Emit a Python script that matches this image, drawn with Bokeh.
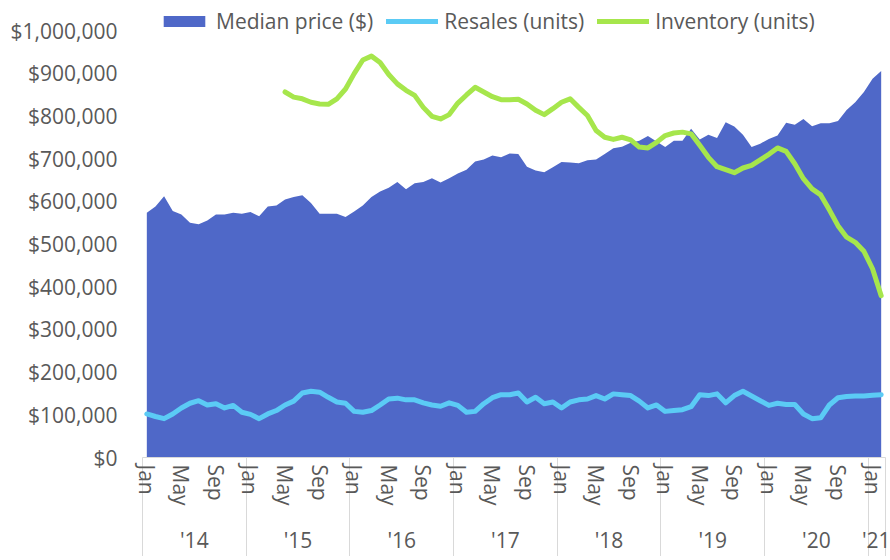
import numpy as np
from bokeh.plotting import figure
from bokeh.models import (ColumnDataSource, Range1d, LinearAxis, FixedTicker,
                          NumeralTickFormatter, Legend, LegendItem)
from bokeh.embed import file_html
from bokeh.resources import INLINE

# ---------------- data (monthly, Jan 2014 - Feb 2021) ----------------
month_names = ["Jan", "Feb", "Mar", "Apr", "May", "Jun",
               "Jul", "Aug", "Sep", "Oct", "Nov", "Dec"]
year_labels = ["'14", "'15", "'16", "'17", "'18", "'19", "'20", "'21"]
y_ticks = [0, 100000, 200000, 300000, 400000, 500000,
           600000, 700000, 800000, 900000, 1000000]

# Median price ($ thousands)
median_price_k = [
    573, 588, 612, 577, 569, 550, 546, 555, 569, 569, 573, 571,   # 2014
    575, 565, 588, 590, 604, 610, 614, 596, 571, 571, 571, 563,   # 2015
    576, 590, 610, 623, 632, 645, 628, 642, 645, 654, 644, 654,   # 2016
    665, 674, 693, 698, 707, 703, 712, 711, 681, 672, 668, 680,   # 2017
    692, 691, 689, 696, 698, 711, 724, 728, 737, 742, 753, 740,   # 2018
    727, 742, 742, 770, 745, 756, 748, 785, 775, 756, 727, 735,   # 2019
    746, 754, 784, 779, 793, 776, 783, 783, 788, 814, 832, 856,   # 2020
    887, 905,                                                     # 2021
]

# Resales (plotted on same scale, thousands)
resales_k = [
    102, 96, 91, 102, 116, 127, 133, 123, 126, 116, 122, 106,
    101, 91, 102, 110, 123, 132, 151, 155, 153, 141, 130, 127,
    108, 106, 110, 123, 137, 139, 135, 135, 128, 123, 120, 128,
    122, 106, 108, 126, 140, 147, 147, 151, 130, 141, 126, 130,
    116, 130, 135, 137, 145, 137, 149, 147, 145, 132, 116, 123,
    108, 110, 112, 119, 147, 145, 149, 128, 145, 155, 144, 133,
    122, 127, 124, 124, 102, 91, 93, 123, 140, 143, 144, 144,
    146, 147,
]

# Inventory (plotted on same scale, thousands), starts May 2015
inventory_k = [
    None, None, None, None, None, None, None, None, None, None, None, None,
    None, None, None, None, 856, 844, 840, 832, 828, 827, 840, 863,
    899, 931, 940, 925, 897, 875, 860, 848, 820, 799, 793, 803,
    830, 849, 867, 856, 845, 838, 838, 839, 828, 813, 803, 817,
    832, 840, 820, 801, 766, 750, 745, 750, 744, 727, 725, 738,
    754, 760, 762, 758, 731, 703, 681, 674, 667, 678, 684, 697,
    710, 725, 717, 688, 653, 629, 615, 580, 543, 516, 504, 483,
    442, 379,
]

n = len(median_price_k)
xs = list(range(n))
src = ColumnDataSource(dict(
    x=xs,
    zero=[0] * n,
    price=[v * 1000 for v in median_price_k],
    resales=[v * 1000 for v in resales_k],
    inventory=[np.nan if v is None else v * 1000 for v in inventory_k],
))

# ticks
month_ticks = [i for i in xs if i % 4 == 0]
month_overrides = {i: month_names[i % 12] for i in month_ticks}
n_years = (n + 11) // 12
boundaries = [12 * k - 0.5 for k in range(n_years)] + [n - 0.5]
year_mids = []
year_overrides = {}
for k in range(n_years):
    s = 12 * k
    e = min(12 * k + 11, n - 1)
    m = (s + e) / 2
    year_mids.append(m)
    year_overrides[m] = year_labels[k]

FONT = "Open Sans"
FSIZE = "21px"
TXT = "#595959"
GRAYLINE = "#d9d9d9"

# frame extends 22px above the $1,000,000 level to host the legend
PLOT_H = 427
EXTRA = 22
y_top = 1000000 * (PLOT_H + EXTRA) / PLOT_H

p = figure(frame_width=743, frame_height=PLOT_H + EXTRA,
           x_range=Range1d(-0.5, n - 0.5), y_range=Range1d(0, y_top),
           output_backend="svg", toolbar_location=None,
           min_border_left=142, min_border_top=8, min_border_right=5,
           min_border_bottom=0)
p.outline_line_color = None
p.xgrid.visible = False
p.ygrid.visible = False
p.background_fill_color = "white"

r_area = p.varea(x="x", y1="zero", y2="price", source=src,
                 fill_color="#4F68C8")
r_res = p.line(x="x", y="resales", source=src, line_color="#5BCBF5",
               line_width=5, line_join="round", line_cap="round")
r_inv = p.line(x="x", y="inventory", source=src, line_color="#A6E64C",
               line_width=5, line_join="round", line_cap="round")

# y axis
ya = p.yaxis[0]
ya.ticker = FixedTicker(ticks=y_ticks)
ya.formatter = NumeralTickFormatter(format="$0,0")
ya.axis_line_color = None
ya.major_tick_line_color = None
ya.minor_tick_line_color = None
ya.major_tick_out = 0
ya.minor_tick_out = 0
ya.major_label_standoff = 25
ya.major_label_text_font = FONT
ya.major_label_text_font_size = FSIZE
ya.major_label_text_color = TXT

# month axis (minor ticks = long year separators)
SEP = 103
xa = p.xaxis[0]
xa.ticker = FixedTicker(ticks=month_ticks, minor_ticks=boundaries)
xa.major_label_overrides = month_overrides
xa.major_tick_line_color = None
xa.major_tick_out = 0
xa.major_tick_in = 0
xa.minor_tick_in = 0
xa.minor_tick_out = SEP
xa.minor_tick_line_color = GRAYLINE
xa.axis_line_color = GRAYLINE
xa.major_label_orientation = "vertical"
xa.major_label_standoff = 7 - SEP
xa.major_label_text_font = FONT
xa.major_label_text_font_size = FSIZE
xa.major_label_text_color = TXT

# year axis
ya2 = LinearAxis(ticker=FixedTicker(ticks=year_mids),
                 major_label_overrides=year_overrides,
                 axis_line_color=None, major_tick_line_color=None,
                 minor_tick_line_color=None, major_tick_out=0,
                 minor_tick_out=0,
                 major_label_standoff=17,
                 major_label_text_font=FONT,
                 major_label_text_font_size=FSIZE,
                 major_label_text_color=TXT)
p.add_layout(ya2, "below")

legend = Legend(items=[
    LegendItem(label="Median price ($)", renderers=[r_area]),
    LegendItem(label="Resales (units)", renderers=[r_res]),
    LegendItem(label="Inventory (units)", renderers=[r_inv]),
], location=(16, 422), orientation="horizontal",
    glyph_width=52, glyph_height=14, label_standoff=6, spacing=13,
    padding=0, margin=0, border_line_color=None, background_fill_alpha=0,
    label_text_font=FONT, label_text_font_size=FSIZE,
    label_text_color=TXT, label_height=20)
p.add_layout(legend)

open("out.html", "w").write(file_html(p, INLINE))
